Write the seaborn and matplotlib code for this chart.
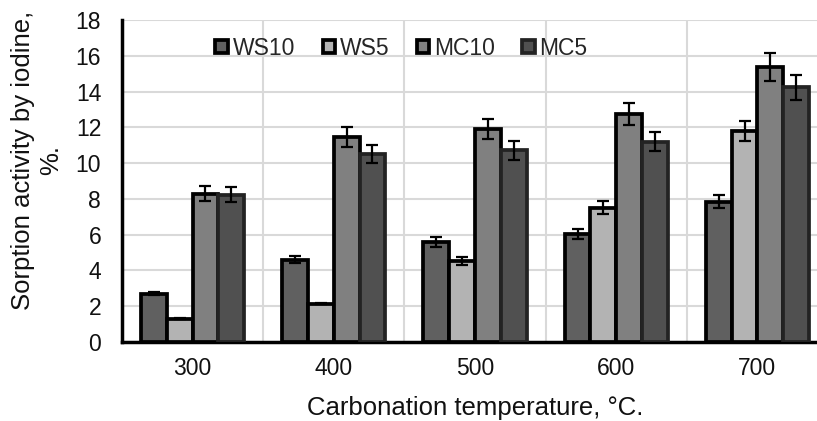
import matplotlib
matplotlib.use('Agg')
import matplotlib.pyplot as plt
from matplotlib.patches import Patch
import pandas as pd
import seaborn as sns
import numpy as np

temps = ['300', '400', '500', '600', '700']
series = ['WS10', 'WS5', 'MC10', 'MC5']
ws10 = [2.7, 4.6, 5.6, 6.05, 7.85]
ws5 = [1.3, 2.15, 4.55, 7.5, 11.8]
mc10 = [8.3, 11.45, 11.9, 12.75, 15.35]
mc5 = [8.22, 10.5, 10.72, 11.2, 14.25]
ws10_err = [0.08, 0.2, 0.28, 0.28, 0.38]
ws5_err = [0.04, 0.05, 0.22, 0.37, 0.58]
mc10_err = [0.4, 0.57, 0.58, 0.62, 0.78]
mc5_err = [0.42, 0.52, 0.53, 0.54, 0.7]

fills = ['#606060', '#b3b3b3', '#808080', '#505050']
edges = ['#000000', '#000000', '#000000', '#232323']

df = pd.DataFrame({
    'temp': temps * 4,
    'series': np.repeat(series, 5),
    'value': ws10 + ws5 + mc10 + mc5,
    'err': ws10_err + ws5_err + mc10_err + mc5_err,
})

sns.set_style('white')
plt.rcParams['font.family'] = ['Liberation Sans', 'DejaVu Sans']

fig = plt.figure(figsize=(8.17, 4.21), dpi=100)
ax = fig.add_axes([122/817, 79/421, 706/817, 322/421])

sns.barplot(data=df, x='temp', y='value', hue='series', order=temps, hue_order=series,
            palette=fills, width=0.73, gap=0, errorbar=None, legend=False, ax=ax, zorder=3)

# edge colours per series, and error bars at bar centres
bar_groups = list(ax.containers)
for i, cont in enumerate(bar_groups):
    sub = df[df.series == series[i]].set_index('temp').loc[temps]
    xs, ys = [], []
    for bar in cont:
        bar.set_edgecolor(edges[i])
        bar.set_linewidth(2.7)
        xs.append(bar.get_x() + bar.get_width() / 2)
        ys.append(bar.get_height())
    ax.errorbar(xs, ys, yerr=sub['err'].values, fmt='none', ecolor='black',
                elinewidth=1.6, capsize=4, capthick=1.6, zorder=4)

ax.set_ylim(0, 18)
ax.set_yticks(np.arange(0, 19, 2))
ax.set_xlim(-0.5, 4.5)
ax.set_xticks(np.arange(0.5, 4.5, 1), minor=True)
ax.grid(axis='y', which='major', color='#d9d9d9', linewidth=1.5, zorder=0)
ax.grid(axis='x', which='minor', color='#d9d9d9', linewidth=1.5, zorder=0)
ax.set_axisbelow(True)
ax.tick_params(axis='both', which='both', length=0, labelsize=16.5, colors='#111111')
ax.tick_params(axis='x', pad=11)
ax.tick_params(axis='y', pad=15)
for s in ['top', 'right']:
    ax.spines[s].set_visible(False)
for s in ['left', 'bottom']:
    ax.spines[s].set_color('black')
    ax.spines[s].set_linewidth(2.5)

ax.set_xlabel('Carbonation temperature, °C.', fontsize=18.5, labelpad=11, color='#111111')
ax.set_ylabel('Sorption activity by iodine,\n%.', fontsize=18.5, linespacing=1.2,
              color='#111111')
ax.yaxis.set_label_coords(-0.084, 0.565)

handles = [Patch(facecolor=fills[i], edgecolor=edges[i], linewidth=2.7) for i in range(4)]
ax.legend(handles, series, ncol=4, frameon=False, loc='center',
          bbox_to_anchor=(0.396, 0.913), fontsize=16.5, handlelength=0.55, handleheight=0.55,
          handletextpad=0.2, columnspacing=1.2, borderpad=0.2)

fig.savefig('out.png', dpi=100)
